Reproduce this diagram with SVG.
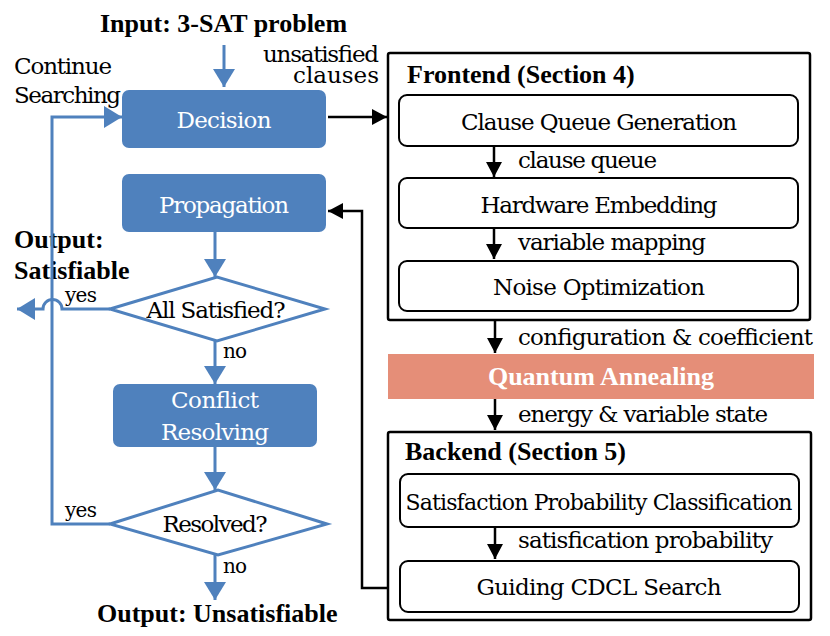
<svg xmlns="http://www.w3.org/2000/svg" width="830" height="636" viewBox="0 0 830 636">
<style>
.blue{fill:#4F81BD}
.dia{fill:#fff;stroke:#4F81BD;stroke-width:3}
.sec{fill:#fff;stroke:#000;stroke-width:2.5}
.box{fill:#fff;stroke:#000;stroke-width:2}
.bl{fill:none;stroke:#4F81BD;stroke-width:3}
.bk{fill:none;stroke:#000;stroke-width:2.5}
</style>
<defs>
<marker id="ab" markerUnits="userSpaceOnUse" markerWidth="18" markerHeight="22" refX="18" refY="11" orient="auto"><path d="M0,0 L18,11 L0,22 z" fill="#4F81BD"/></marker>
<marker id="ak" markerUnits="userSpaceOnUse" markerWidth="15" markerHeight="16" refX="15" refY="8" orient="auto"><path d="M0,0 L15,8 L0,16 z" fill="#000"/></marker>
</defs>
<rect width="830" height="636" fill="#fff"/>
<g id="labels">
<text font-family="Liberation Serif, serif" font-size="26" font-weight="bold" x="100" y="32">Input: 3-SAT problem</text>
<text font-family="DejaVu Serif, Liberation Serif, serif" font-size="23" x="379" y="62" text-anchor="end" textLength="116">unsatisfied</text>
<text font-family="DejaVu Serif, Liberation Serif, serif" font-size="23" x="379" y="83" text-anchor="end">clauses</text>
<text font-family="DejaVu Serif, Liberation Serif, serif" font-size="23" x="14" y="74" textLength="98">Continue</text>
<text font-family="DejaVu Serif, Liberation Serif, serif" font-size="23" x="14" y="103" textLength="107">Searching</text>
<text font-family="Liberation Serif, serif" font-size="26" font-weight="bold" x="14" y="248">Output:</text>
<text font-family="Liberation Serif, serif" font-size="26" font-weight="bold" x="14" y="279">Satisfiable</text>
<text font-family="DejaVu Serif, Liberation Serif, serif" font-size="20" x="65" y="302" textLength="32">yes</text>
<text font-family="DejaVu Serif, Liberation Serif, serif" font-size="20" x="223" y="358" textLength="24">no</text>
<text font-family="DejaVu Serif, Liberation Serif, serif" font-size="20" x="65" y="517" textLength="32">yes</text>
<text font-family="DejaVu Serif, Liberation Serif, serif" font-size="20" x="223" y="573" textLength="24">no</text>
<text font-family="Liberation Serif, serif" font-size="26" font-weight="bold" x="97" y="622">Output: Unsatisfiable</text>
</g>
<g id="frontend">
<rect class="sec" x="388" y="53" width="422" height="267" rx="2"/>
<text font-family="Liberation Serif, serif" font-size="26" font-weight="bold" x="407" y="83">Frontend (Section 4)</text>
</g>
<g id="clausequeue"><rect class="box" x="399" y="95" width="399" height="51" rx="8"/><text font-family="DejaVu Serif, Liberation Serif, serif" font-size="23" x="599" y="130" text-anchor="middle" textLength="276">Clause Queue Generation</text></g>
<g id="hwembed"><rect class="box" x="399" y="178" width="399" height="50" rx="8"/><text font-family="DejaVu Serif, Liberation Serif, serif" font-size="23" x="599" y="213" text-anchor="middle" textLength="237">Hardware Embedding</text></g>
<g id="noise"><rect class="box" x="399" y="261" width="399" height="50" rx="8"/><text font-family="DejaVu Serif, Liberation Serif, serif" font-size="23" x="599" y="295" text-anchor="middle" textLength="212">Noise Optimization</text></g>
<g id="quantum"><rect x="388" y="354" width="426" height="45" fill="#E58E78"/><text font-family="Liberation Serif, serif" font-size="26" font-weight="bold" fill="#fff" x="601" y="385" text-anchor="middle">Quantum Annealing</text></g>
<g id="backend">
<rect class="sec" x="388" y="432" width="423" height="188" rx="2"/>
<text font-family="Liberation Serif, serif" font-size="26" font-weight="bold" x="405" y="460">Backend (Section 5)</text>
</g>
<g id="satprob"><rect class="box" x="400" y="474" width="399" height="53" rx="8"/><text font-family="DejaVu Serif, Liberation Serif, serif" font-size="22" x="599" y="510" text-anchor="middle" textLength="387">Satisfaction Probability Classification</text></g>
<g id="cdcl"><rect class="box" x="400" y="561" width="399" height="51" rx="8"/><text font-family="DejaVu Serif, Liberation Serif, serif" font-size="23" x="599" y="595" text-anchor="middle" textLength="245">Guiding CDCL Search</text></g>
<g id="decision"><rect class="blue" x="122" y="90" width="204" height="58" rx="7"/><text font-family="DejaVu Serif, Liberation Serif, serif" font-size="23" fill="#fff" x="224" y="128" text-anchor="middle" textLength="95">Decision</text></g>
<g id="propagation"><rect class="blue" x="122" y="174" width="204" height="58" rx="7"/><text font-family="DejaVu Serif, Liberation Serif, serif" font-size="23" fill="#fff" x="224" y="213" text-anchor="middle" textLength="130">Propagation</text></g>
<g id="allsat"><polygon class="dia" points="110,309 217,277 325,309 217,341"/><text font-family="DejaVu Serif, Liberation Serif, serif" font-size="23" x="216" y="318" text-anchor="middle" textLength="139">All Satisfied?</text></g>
<g id="conflict"><rect class="blue" x="113" y="384" width="204" height="63" rx="7"/><text font-family="DejaVu Serif, Liberation Serif, serif" font-size="23" fill="#fff" x="215" y="408" text-anchor="middle" textLength="88">Conflict</text><text font-family="DejaVu Serif, Liberation Serif, serif" font-size="23" fill="#fff" x="215" y="440" text-anchor="middle" textLength="108">Resolving</text></g>
<g id="resolved"><polygon class="dia" points="110,524 218,490 327,524 218,555"/><text font-family="DejaVu Serif, Liberation Serif, serif" font-size="23" x="215" y="532" text-anchor="middle" textLength="105">Resolved?</text></g>
<g id="connectors">
<path class="bl" d="M224,45 V87" marker-end="url(#ab)"/>
<path class="bl" d="M110,524 H52 V117 H122" marker-end="url(#ab)"/>
<path class="bl" d="M215,232 V277" marker-end="url(#ab)"/>
<path class="bl" d="M110,309 H62 A9.5,9.5 0 0 0 43,309 H17" marker-end="url(#ab)"/>
<path class="bl" d="M215,341 V384" marker-end="url(#ab)"/>
<path class="bl" d="M215,447 V490" marker-end="url(#ab)"/>
<path class="bl" d="M215,555 V600" marker-end="url(#ab)"/>
<path class="bk" d="M328,117 H387" marker-end="url(#ak)"/>
<path class="bk" d="M388,588 H362 V211 H328" marker-end="url(#ak)"/>
<path class="bk" d="M494,146 V177" marker-end="url(#ak)"/>
<path class="bk" d="M494,228 V259" marker-end="url(#ak)"/>
<path class="bk" d="M495,320 V353" marker-end="url(#ak)"/>
<path class="bk" d="M495,399 V430" marker-end="url(#ak)"/>
<path class="bk" d="M495,527 V559" marker-end="url(#ak)"/>
</g>
<g id="edge-labels">
<text font-family="DejaVu Serif, Liberation Serif, serif" font-size="23" x="518" y="168" textLength="139">clause queue</text>
<text font-family="DejaVu Serif, Liberation Serif, serif" font-size="23" x="518" y="250" textLength="188">variable mapping</text>
<text font-family="DejaVu Serif, Liberation Serif, serif" font-size="23" x="518" y="345" textLength="295">configuration &amp; coefficient</text>
<text font-family="DejaVu Serif, Liberation Serif, serif" font-size="23" x="518" y="422" textLength="250">energy &amp; variable state</text>
<text font-family="DejaVu Serif, Liberation Serif, serif" font-size="23" x="518" y="548" textLength="255">satisfication probability</text>
</g>
</svg>
